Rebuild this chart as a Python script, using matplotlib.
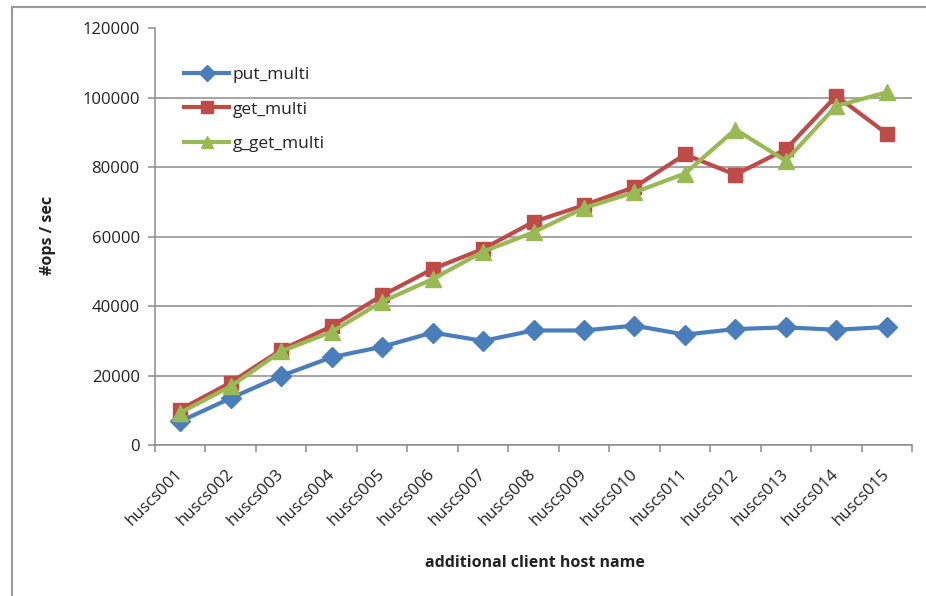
import matplotlib
matplotlib.use("Agg")
import matplotlib.pyplot as plt
from matplotlib.lines import Line2D
from matplotlib.ticker import FixedLocator, MultipleLocator
import matplotlib.transforms as mtransforms

plt.rcParams['font.family'] = ['Open Sans', 'DejaVu Sans']

hosts = ["huscs001", "huscs002", "huscs003", "huscs004", "huscs005",
         "huscs006", "huscs007", "huscs008", "huscs009", "huscs010",
         "huscs011", "huscs012", "huscs013", "huscs014", "huscs015"]

put_multi = [6800, 13500, 19900, 25300, 28300, 32400, 30000, 33000,
             33000, 34400, 31800, 33400, 33900, 33200, 34000]
get_multi = [10200, 18000, 27400, 34200, 43100, 50700, 56500, 64300,
             69100, 74300, 83700, 77900, 85200, 100600, 89700]
g_get_multi = [9300, 16900, 27000, 32600, 41300, 47800, 55700, 61300,
               68300, 72800, 78200, 90900, 81900, 97700, 101600]

series = [
    ("put_multi", put_multi, "#4A7EBB", "D", 10),
    ("get_multi", get_multi, "#BE4B48", "s", 10),
    ("g_get_multi", g_get_multi, "#98B954", "^", 11),
]

fig = plt.figure(figsize=(9.26, 5.96), dpi=100)
ax = fig.add_axes([155 / 926, 1 - 445 / 596, (912 - 155) / 926, (445 - 28.5) / 596])

x = list(range(len(hosts)))
for name, vals, color, marker, ms in series:
    ax.plot(x, vals, color=color, lw=3, marker=marker, markersize=ms,
            markerfacecolor=color, markeredgecolor=color, label=name,
            solid_joinstyle="round", zorder=3)

ax.set_xlim(-0.5, len(hosts) - 0.5)
ax.set_ylim(0, 120000)
ax.yaxis.set_major_locator(MultipleLocator(20000))
ax.grid(axis="y", color="#8C8C8C", lw=1.1)
ax.set_axisbelow(True)

for side in ("top", "right"):
    ax.spines[side].set_visible(False)
for side in ("left", "bottom"):
    ax.spines[side].set_color("#8C8C8C")
    ax.spines[side].set_linewidth(1.1)

ax.tick_params(axis="y", length=5, width=1.1, color="#8C8C8C",
               labelsize=12, labelcolor="#222222", pad=6)

# category labels at centers, tick marks at category boundaries
ax.set_xticks(x)
ax.set_xticklabels(hosts, rotation=45, ha="right", fontsize=12, color="#222222")
ax.tick_params(axis="x", which="major", length=0, pad=15)
ax.xaxis.set_minor_locator(FixedLocator([i - 0.5 for i in range(len(hosts) + 1)]))
ax.tick_params(axis="x", which="minor", length=5, width=1.1, color="#8C8C8C")
shift = mtransforms.ScaledTranslation(6 / 100, 0, fig.dpi_scale_trans)
for lbl in ax.get_xticklabels():
    lbl.set_transform(lbl.get_transform() + shift)

fig.text(535 / 926, 1 - 563 / 596, "additional client host name", ha="center",
         va="center", fontsize=11.5, fontweight="bold", color="#222222")
fig.text(48 / 926, 1 - 235 / 596, "#ops / sec", ha="center", va="center",
         rotation=90, fontsize=11.5, fontweight="bold", color="#222222")

leg = ax.legend(loc="upper left", bbox_to_anchor=(0.018, 0.945), frameon=False,
                fontsize=12.5, handlelength=2.6, labelspacing=1.05,
                handletextpad=0.2, markerscale=0.85)
for t in leg.get_texts():
    t.set_color("#222222")

# outer chart frame (top and left edges)
fig.add_artist(Line2D([12 / 926, 12 / 926], [0, 1 - 7 / 596], color="#9A9A9A",
                      lw=1.5, transform=fig.transFigure))
fig.add_artist(Line2D([12 / 926, 1], [1 - 7 / 596, 1 - 7 / 596], color="#9A9A9A",
                      lw=1.5, transform=fig.transFigure))

fig.savefig("out.png", dpi=100)
